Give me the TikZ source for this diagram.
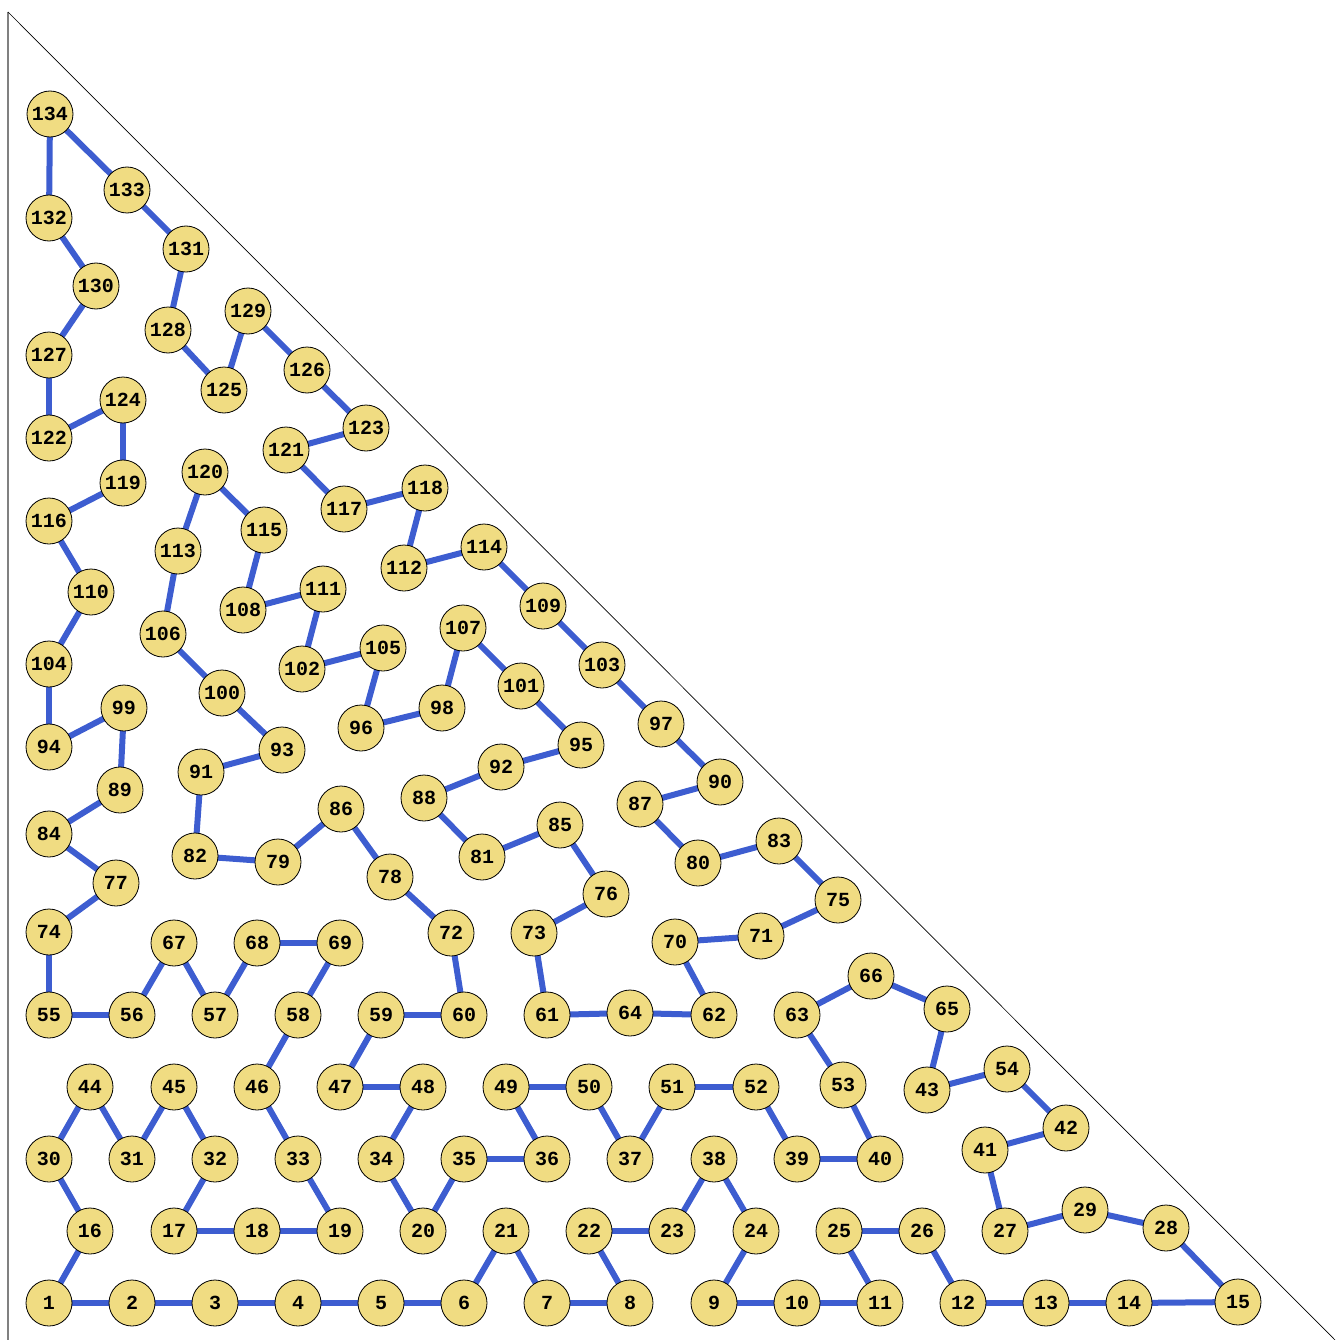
\documentclass[tikz,border=0pt]{standalone}
\usepackage{fontspec}
\newfontfamily\nodefont{Liberation Mono}
\definecolor{edgeblue}{RGB}{61,93,208}
\definecolor{nodefill}{RGB}{240,220,130}
\begin{document}
\begin{tikzpicture}[x=1pt,y=-1pt,
  vtx/.style={circle,draw=black,line width=0.8pt,fill=nodefill,minimum size=46pt,inner sep=0pt,font=\nodefont\bfseries\fontsize{20}{20}\selectfont},
  link/.style={draw=edgeblue,line width=6pt}]
\useasboundingbox (0,0) rectangle (1335,1340);
\draw[gray,line width=1.5pt] (8,12) -- (8,1340);
\draw[black,line width=0.7pt] (8,12) -- (1335,1340);
\foreach \n/\x/\y in {
1/49/1303,2/132/1303,3/215/1303,4/298/1303,5/381/1303,6/464/1303,7/547/1303,8/630/1303,
9/714/1303,10/797/1303,11/880/1303,12/963/1303,13/1046/1303,14/1129/1303,15/1238/1302,
16/90/1231,17/174/1231,18/257/1231,19/340/1231,20/423/1231,21/506/1231,22/589/1231,
23/672/1231,24/756/1231,25/839/1231,26/922/1231,27/1005/1231,28/1166/1228,29/1085/1210,
30/49/1159,31/132/1159,32/215/1159,33/298/1159,34/381/1159,35/464/1159,36/547/1159,
37/630/1159,38/714/1159,39/797/1159,40/880/1159,41/985/1150,42/1066/1128,43/927/1090,
44/90/1087,45/174/1087,46/257/1087,47/340/1087,48/423/1087,49/506/1087,50/589/1087,
51/672/1087,52/756/1087,53/843/1085,54/1007/1069,55/49/1015,56/132/1015,57/215/1015,
58/298/1015,59/381/1015,60/464/1015,61/547/1015,62/714/1015,63/797/1015,64/630/1013,
65/947/1009,66/871/976,67/174/943,68/257/943,69/340/943,70/675/942,71/761/936,
72/451/933,73/534/933,74/49/932,75/838/900,76/606/894,77/116/883,78/390/877,
79/278/862,80/698/863,81/482/857,82/195/856,83/779/841,84/49/834,85/560/825,
86/341/809,87/640/804,88/424/798,89/120/790,90/720/782,91/201/772,92/501/767,
93/282/750,94/49/747,95/581/745,96/361/728,97/661/724,98/442/708,99/124/708,
100/222/693,101/521/686,102/302/669,103/602/665,104/49/664,105/383/648,106/163/634,
107/463/628,108/243/610,109/543/606,110/91/592,111/323/589,112/404/568,113/178/551,
114/484/547,115/264/530,116/49/521,117/344/509,118/425/488,119/123/483,120/205/472,
121/286/450,122/49/438,123/366/428,124/123/400,125/224/390,126/307/370,127/49/355,
128/168/330,129/248/311,130/96/286,131/186/249,132/49/218,133/127/190,134/50/114}
  \coordinate (c\n) at (\x,\y);
\foreach \a/\b in {1/2,2/3,3/4,4/5,5/6,6/21,21/7,7/8,8/22,22/23,23/38,38/24,24/9,9/10,10/11,
11/25,25/26,26/12,12/13,13/14,14/15,15/28,28/29,29/27,27/41,41/42,42/54,54/43,43/65,65/66,
66/63,63/53,53/40,40/39,39/52,52/51,51/37,37/50,50/49,49/36,36/35,35/20,20/34,34/48,48/47,
47/59,59/60,60/72,72/78,78/86,86/79,79/82,82/91,91/93,93/100,100/106,106/113,113/120,
120/115,115/108,108/111,111/102,102/105,105/96,96/98,98/107,107/101,101/95,95/92,92/88,
88/81,81/85,85/76,76/73,73/61,61/64,64/62,62/70,70/71,71/75,75/83,83/80,80/87,87/90,
90/97,97/103,103/109,109/114,114/112,112/118,118/117,117/121,121/123,123/126,126/129,
129/125,125/128,128/131,131/133,133/134,134/132,132/130,130/127,127/122,122/124,124/119,
119/116,116/110,110/104,104/94,94/99,99/89,89/84,84/77,77/74,74/55,55/56,56/67,67/57,
57/68,68/69,69/58,58/46,46/33,33/19,19/18,18/17,17/32,32/45,45/31,31/44,44/30,30/16,16/1}
  \draw[link] (c\a) -- (c\b);
\foreach \n in {1,...,134}
  \node[vtx] (v\n) at (c\n) {\n};
\end{tikzpicture}
\end{document}
